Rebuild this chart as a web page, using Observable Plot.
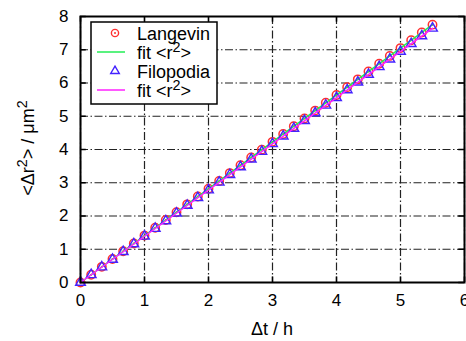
<!DOCTYPE html>
<html><head><meta charset="utf-8">
<script src="https://cdn.jsdelivr.net/npm/d3@7"></script>
<script src="https://cdn.jsdelivr.net/npm/@observablehq/plot@0.6"></script>
<style>body{margin:0;background:#fff}svg{display:block}</style>
</head><body><div id="chart"></div>
<script>
// time lags (h)
const lagT = [0, 0.167, 0.333, 0.5, 0.667, 0.833, 1, 1.167, 1.333, 1.5, 1.667, 1.833, 2, 2.167, 2.333, 2.5, 2.667, 2.833, 3, 3.167, 3.333, 3.5, 3.667, 3.833, 4, 4.167, 4.333, 4.5, 4.667, 4.833, 5, 5.167, 5.333, 5.5];
const langevinMSD = [0, 0.235, 0.47, 0.705, 0.94, 1.175, 1.41, 1.645, 1.88, 2.115, 2.35, 2.585, 2.82, 3.055, 3.29, 3.525, 3.76, 3.995, 4.23, 4.465, 4.7, 4.935, 5.17, 5.405, 5.64, 5.875, 6.11, 6.345, 6.58, 6.815, 7.05, 7.285, 7.52, 7.755];
const filopodiaMSD = [0, 0.232, 0.463, 0.695, 0.927, 1.158, 1.39, 1.622, 1.853, 2.085, 2.317, 2.548, 2.78, 3.012, 3.243, 3.475, 3.707, 3.938, 4.17, 4.402, 4.633, 4.865, 5.097, 5.328, 5.56, 5.792, 6.023, 6.255, 6.487, 6.718, 6.95, 7.182, 7.413, 7.645];
const fitT = [0, 5.5];
const fitLangevin = [0, 7.755];
const fitFilopodia = [0, 7.645];
const xTicks = [0, 1, 2, 3, 4, 5, 6];
const yTicks = [0, 1, 2, 3, 4, 5, 6, 7, 8];

const lang = lagT.map((t, i) => ({t, v: langevinMSD[i]}));
const filo = lagT.map((t, i) => ({t, v: filopodiaMSD[i]}));
const fitL = fitT.map((t, i) => ({t, v: fitLangevin[i]}));
const fitF = fitT.map((t, i) => ({t, v: fitFilopodia[i]}));

const RED = "#ff3030", GREEN = "#22ee55", BLUE = "#4422ff", MAG = "#ff22ff";
const dash = "8,2.5,1.5,2.5";

const plot = Plot.plot({
  width: 466, height: 341,
  marginLeft: 80, marginRight: 2, marginTop: 16, marginBottom: 59,
  style: {fontFamily: "Liberation Sans, Arial, sans-serif", fontSize: "17px", color: "#000", background: "#fff"},
  x: {domain: [0, 6]},
  y: {domain: [0, 8]},
  marks: [
    Plot.ruleX(xTicks, {stroke: "#222", strokeWidth: 1.2, strokeDasharray: dash}),
    Plot.ruleY(yTicks, {stroke: "#222", strokeWidth: 1.2, strokeDasharray: dash}),
    Plot.ruleX(xTicks, {y1: 0, y2: 0.17, stroke: "#000", strokeWidth: 1.5}),
    Plot.ruleX(xTicks, {y1: 7.83, y2: 8, stroke: "#000", strokeWidth: 1.5}),
    Plot.ruleY(yTicks, {x1: 0, x2: 0.09, stroke: "#000", strokeWidth: 1.5}),
    Plot.ruleY(yTicks, {x1: 5.91, x2: 6, stroke: "#000", strokeWidth: 1.5}),
    Plot.axisX(xTicks, {tickSize: 0, tickPadding: 11, fontSize: 17, label: null}),
    Plot.axisY(yTicks, {tickSize: 0, tickPadding: 12, fontSize: 17, label: null}),
    Plot.dot(lang, {x: "t", y: "v", r: 4.2, stroke: RED, strokeWidth: 1.5, fill: "none"}),
    Plot.dot(lang, {x: "t", y: "v", r: 1, fill: RED}),
    Plot.line(fitL, {x: "t", y: "v", stroke: GREEN, strokeWidth: 1.5}),
    Plot.dot(filo, {x: "t", y: "v", symbol: "triangle", r: 3.6, stroke: BLUE, strokeWidth: 1.4, fill: "none"}),
    Plot.line(fitF, {x: "t", y: "v", stroke: MAG, strokeWidth: 1.5}),
    Plot.frame({stroke: "#000", strokeWidth: 2})
  ]
});
document.getElementById("chart").appendChild(plot);

const svg = d3.select(plot);
const font = "Liberation Sans, Arial, sans-serif";
function supText(g, x, y, parts, size, attrs) {
  const t = g.append("text").attr("x", x).attr("y", y).attr("text-anchor", "start")
    .attr("font-family", font).attr("font-size", size).attr("fill", "#000");
  if (attrs) for (const k in attrs) t.attr(k, attrs[k]);
  let raised = false;
  parts.forEach(p => {
    const s = t.append("tspan").text(p.s);
    if (p.sup && !raised) { s.attr("dy", -7).attr("font-size", size * 0.8); raised = true; }
    else if (!p.sup && raised) { s.attr("dy", 7); raised = false; }
    else if (p.sup) s.attr("font-size", size * 0.8);
  });
  return t;
}
// axis labels
svg.append("text").attr("x", 272).attr("y", 335).attr("text-anchor", "middle")
  .attr("font-family", font).attr("font-size", 18).attr("fill", "#000").text("Δt / h");
supText(svg, 0, 0, [{s: "<Δr"}, {s: "2", sup: true}, {s: "> / μm"}, {s: "2", sup: true}], 18,
  {"text-anchor": "middle", transform: "translate(34,148) rotate(-90)"});

// legend
const lg = svg.append("g");
lg.append("rect").attr("x", 91).attr("y", 22).attr("width", 126).attr("height", 82)
  .attr("fill", "#fff").attr("stroke", "#000").attr("stroke-width", 1.5);
const rows = [40, 59, 78, 97];
lg.append("circle").attr("cx", 115).attr("cy", 33).attr("r", 3.6).attr("fill", "none").attr("stroke", RED).attr("stroke-width", 1.4);
lg.append("circle").attr("cx", 115).attr("cy", 33).attr("r", 1).attr("fill", RED);
lg.append("line").attr("x1", 97).attr("x2", 125).attr("y1", 52).attr("y2", 52).attr("stroke", GREEN).attr("stroke-width", 1.5);
lg.append("path").attr("d", d3.symbol(d3.symbolTriangle, 32)()).attr("transform", "translate(115,71)")
  .attr("fill", "none").attr("stroke", BLUE).attr("stroke-width", 1.4);
lg.append("line").attr("x1", 97).attr("x2", 125).attr("y1", 90).attr("y2", 90).attr("stroke", MAG).attr("stroke-width", 1.5);
supText(lg, 137, rows[0], [{s: "Langevin"}], 18);
supText(lg, 137, rows[1], [{s: "fit <r"}, {s: "2", sup: true}, {s: ">"}], 18);
supText(lg, 137, rows[2], [{s: "Filopodia"}], 18);
supText(lg, 137, rows[3], [{s: "fit <r"}, {s: "2", sup: true}, {s: ">"}], 18);
</script></body></html>
